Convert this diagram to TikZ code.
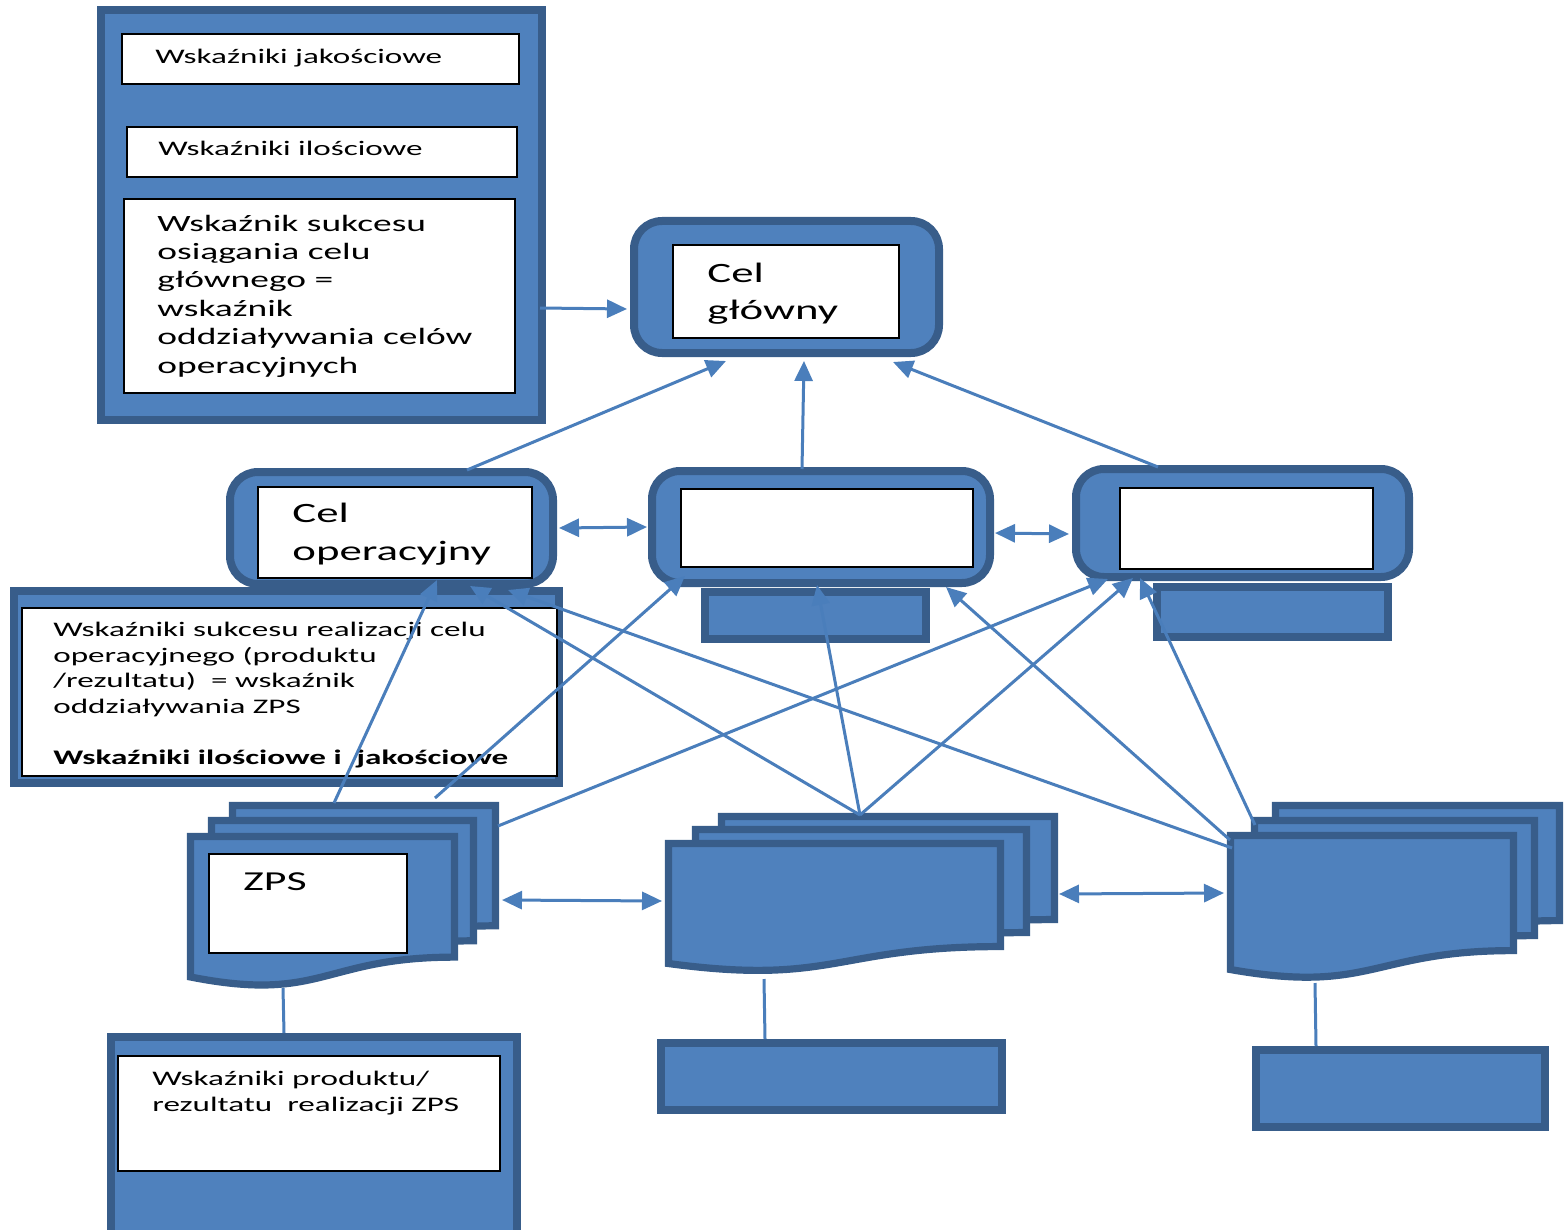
\documentclass[tikz,border=0pt]{standalone}
\usepackage{fontspec}
\newfontfamily\wf[FakeStretch=1.6]{Carlito}
\usetikzlibrary{arrows.meta}
\definecolor{boxfill}{HTML}{4F81BD}
\definecolor{boxline}{HTML}{385D8A}
\definecolor{conncol}{HTML}{4A7EBB}
\newcommand\docpage[4]{%
  \draw[docshape] (#1,#2) -- (#3,#2) -- (#3,{#2+0.802*#4})
    .. controls ({(#1+#3)/2},{#2+0.802*#4}) and ({(#1+#3)/2},{#2+1.1075*#4}) ..
    (#1,{#2+0.934*#4}) -- cycle;}
\begin{document}
\begin{tikzpicture}[x=0.5pt,y=-0.5pt,
  bluebox/.style={draw=boxline, fill=boxfill, line width=4pt, shape=rectangle, inner sep=0pt},
  roundbox/.style={bluebox, rounded corners=14pt},
  docshape/.style={draw=boxline, fill=boxfill, line width=3.6pt},
  whitebox/.style={draw=black, fill=white, line width=0.8pt, shape=rectangle, inner sep=0pt},
  txt/.style={anchor=base west, inner sep=0pt, align=left},
  smalltxt/.style={txt, font=\wf\fontsize{10.35pt}{12.75pt}\selectfont},
  midtxt/.style={txt, font=\wf\fontsize{11.7pt}{14.2pt}\selectfont},
  bigtxt/.style={txt, font=\wf\fontsize{14pt}{18.8pt}\selectfont},
  conn/.style={draw=conncol, line width=1.5pt},
  arr/.style={conn, -{Triangle[length=10pt,width=9pt]}},
  darr/.style={conn, {Triangle[length=10pt,width=9pt]}-{Triangle[length=10pt,width=9pt]}}
]
\useasboundingbox (0,0) rectangle (1568,1230);

% top-left indicator box
\node[bluebox, minimum width=220.5pt, minimum height=205pt] (A) at (321.5,215) {};
\node[whitebox, minimum width=198.5pt, minimum height=25pt] (W1) at (320.5,59) {};
\node[whitebox, minimum width=195pt, minimum height=25pt] (W2) at (322,152) {};
\node[whitebox, minimum width=195.5pt, minimum height=97pt] (W3) at (319.5,296) {};
\node[smalltxt] (t1) at (155,64) {Wskaźniki jakościowe};
\node[smalltxt] (t2) at (158,156) {Wskaźniki ilościowe};
% anchored at the baseline of the last line
\node[midtxt] (t3) at (157,373) {Wskaźnik sukcesu\\osiągania celu\\głównego =\\wskaźnik\\oddziaływania celów\\operacyjnych};

% main goal
\node[roundbox, minimum width=152.5pt, minimum height=66pt] (G) at (786.5,287) {};
\node[whitebox, minimum width=113pt, minimum height=46.5pt] (GW) at (786,291.5) {};
\node[bigtxt] (tg) at (707,320) {Cel\\główny};

% operational goals
\node[roundbox, minimum width=161.5pt, minimum height=56pt] (C) at (391.5,528) {};
\node[whitebox, minimum width=137pt, minimum height=45.5pt] (CW) at (395,532.5) {};
\node[bigtxt] (tc) at (292,560) {Cel\\operacyjny};

\node[roundbox, minimum width=169pt, minimum height=56pt] (B2) at (821,527) {};
\node[whitebox, minimum width=146pt, minimum height=39pt] (B2W) at (827,528) {};
\node[bluebox, minimum width=110.5pt, minimum height=23.5pt] (S2) at (815.5,615.5) {};

\node[roundbox, minimum width=166.5pt, minimum height=54pt] (B3) at (1242.5,523) {};
\node[whitebox, minimum width=126.5pt, minimum height=40.5pt] (B3W) at (1246.5,528.5) {};
\node[bluebox, minimum width=115.5pt, minimum height=25pt] (S3) at (1272.5,612) {};

% operational indicators
\node[bluebox, minimum width=272.5pt, minimum height=96pt] (K) at (286.5,687) {};
\node[whitebox, minimum width=267.5pt, minimum height=84pt] (KW) at (289.5,692) {};
\node[smalltxt] (tk) at (53,764) {Wskaźniki sukcesu realizacji celu\\operacyjnego (produktu\\/rezultatu)~ = wskaźnik\\oddziaływania ZPS\\[12.75pt]\textbf{Wskaźniki ilościowe i~ jakościowe}};

% stacked documents
\docpage{232.5}{805.5}{495.5}{150}
\docpage{211.5}{820.5}{473.5}{150}
\docpage{190.5}{836.5}{454.5}{150.4}
\node[whitebox, minimum width=99pt, minimum height=49.5pt] (ZW) at (308,903.5) {};
\node[txt, font=\wf\fontsize{13.7pt}{16pt}\selectfont] (tz) at (243,890) {ZPS};

\docpage{721.5}{816.5}{1054.5}{128.5}
\docpage{695.5}{829.5}{1026.5}{128.5}
\docpage{668.5}{843.5}{1000.5}{128.5}

\docpage{1275.5}{805.5}{1559.5}{143.5}
\docpage{1254.5}{820.5}{1534.5}{143.5}
\docpage{1230.5}{835.5}{1513.5}{143.5}

% bottom boxes
\node[bluebox, minimum width=203pt, minimum height=104pt] (L) at (314,1141) {};
\node[whitebox, minimum width=191pt, minimum height=57.5pt] (LW) at (309,1113.5) {};
\node[smalltxt] (tl) at (152,1111) {Wskaźniki produktu/\\rezultatu~ realizacji ZPS};
\node[bluebox, minimum width=170.5pt, minimum height=33.5pt] (BM) at (831.5,1076.5) {};
\node[bluebox, minimum width=144.5pt, minimum height=38.5pt] (BR) at (1400.5,1088.5) {};

% connector end points
\coordinate (aR) at (540,308);   \coordinate (gL) at (627,309);
\coordinate (gB1) at (726,361);  \coordinate (cT) at (467,470);
\coordinate (gB2) at (804,361);  \coordinate (b2T) at (802,469);
\coordinate (gB3) at (893,362);  \coordinate (b3T) at (1158,467);
\coordinate (cR) at (559,528);   \coordinate (b2L) at (647,527);
\coordinate (b2R) at (995,533);  \coordinate (b3L) at (1069,534);
\coordinate (zT1) at (334,803);  \coordinate (cB1) at (437,580);
\coordinate (zT2) at (435,798);  \coordinate (b2B1) at (685,576);
\coordinate (zR) at (498,826);   \coordinate (b3B1) at (1108,579);
\coordinate (mT) at (860,815);   \coordinate (cB2) at (470,586);
\coordinate (b2B2) at (817,585); \coordinate (b3B2) at (1133,578);
\coordinate (rL1) at (1232,848); \coordinate (cB3) at (508,590);
\coordinate (rL2) at (1230,840); \coordinate (b2B3) at (946,587);
\coordinate (rT) at (1255,825);  \coordinate (b3B3) at (1140,578);
\coordinate (zRm) at (502,900);  \coordinate (mL) at (662,901);
\coordinate (mR) at (1059,894);  \coordinate (rLm) at (1224,893);
\coordinate (zB) at (283,988);   \coordinate (lT) at (284,1033);
\coordinate (mB) at (764,979);   \coordinate (bmT) at (765,1039);
\coordinate (rB) at (1315,983);  \coordinate (brT) at (1316,1046);

% connectors
\draw[arr] (aR) -- (gL);
\draw[arr] (cT) -- (gB1);
\draw[arr] (b2T) -- (gB2);
\draw[arr] (b3T) -- (gB3);
\draw[darr] (cR) -- (b2L);
\draw[darr] (b2R) -- (b3L);
\draw[arr] (zT1) -- (cB1);
\draw[arr] (zT2) -- (b2B1);
\draw[arr] (zR) -- (b3B1);
\draw[arr] (mT) -- (cB2);
\draw[arr] (mT) -- (b2B2);
\draw[arr] (mT) -- (b3B2);
\draw[arr] (rL1) -- (cB3);
\draw[arr] (rL2) -- (b2B3);
\draw[arr] (rT) -- (b3B3);
\draw[darr] (zRm) -- (mL);
\draw[darr] (mR) -- (rLm);
\draw[conn] (zB) -- (lT);
\draw[conn] (mB) -- (bmT);
\draw[conn] (rB) -- (brT);
\end{tikzpicture}
\end{document}
